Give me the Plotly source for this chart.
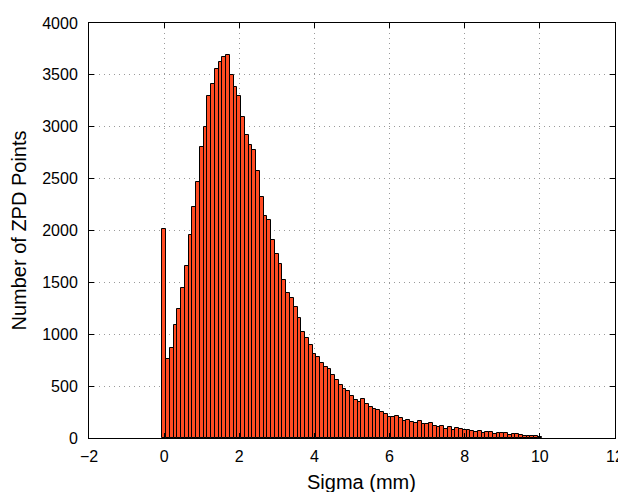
import plotly.graph_objects as go

# histogram of sigma values, bins centred every 0.1 mm from 0 to 10
sigma_centers = [round(0.1 * i, 1) for i in range(101)]
zpd_counts = [
    2010, 758, 870, 1091, 1242, 1445, 1660, 1955, 2231, 2465,
    2806, 3001, 3293, 3409, 3553, 3627, 3675, 3688, 3502, 3383,
    3293, 3098, 2921, 2822, 2777, 2574, 2324, 2141, 2103, 1907,
    1778, 1679, 1522, 1393, 1345, 1258, 1152, 1024, 960, 896,
    809, 777, 725, 687, 661, 607, 559, 507, 469, 456,
    401, 369, 347, 376, 327, 302, 279, 270, 254, 231,
    199, 199, 209, 196, 161, 171, 158, 146, 165, 136,
    136, 146, 114, 108, 117, 89, 108, 79, 98, 89,
    73, 73, 63, 57, 70, 51, 60, 54, 38, 44,
    44, 44, 28, 35, 35, 25, 22, 22, 22, 22,
    12,
]

x_ticks = [-2, 0, 2, 4, 6, 8, 10, 12]
y_ticks = [0, 500, 1000, 1500, 2000, 2500, 3000, 3500, 4000]

fig = go.Figure()
fig.add_trace(go.Bar(
    x=sigma_centers, y=zpd_counts, width=0.1,
    marker=dict(color="#FF4B23", line=dict(color="black", width=1)),
))

axis_style = dict(
    showline=True, linecolor="black", linewidth=1, mirror="ticks",
    ticks="inside", ticklen=5, tickcolor="black",
    showgrid=True, gridcolor="#9a9a9a", griddash="1px,4px", gridwidth=1,
    zeroline=False, automargin=False,
    tickfont=dict(family="Liberation Sans", size=16, color="black"),
)

fig.update_xaxes(range=[-2, 12], tickvals=x_ticks, ticklabelstandoff=4,
                 ticklabeloverflow="allow", **axis_style)
fig.update_yaxes(range=[0, 4000], tickvals=y_ticks, ticklabelstandoff=7,
                 title=dict(text="Number of ZPD Points", font=dict(family="Liberation Sans", size=20, color="black"), standoff=16),
                 **axis_style)

# x label as annotation so it can sit right at the bottom edge like the original
fig.add_annotation(text="Sigma (mm)", xref="paper", yref="paper", x=0.5, y=0,
                   xanchor="center", yanchor="top", xshift=9, yshift=-31, showarrow=False,
                   font=dict(family="Liberation Sans", size=20, color="black"))

# page body adds an 8px offset, so margins are shifted by that much
fig.update_layout(
    width=618, height=484,
    margin=dict(l=81, r=11, t=15, b=54),
    paper_bgcolor="white", plot_bgcolor="white",
    bargap=0, showlegend=False,
)

fig.write_html("out.html")
